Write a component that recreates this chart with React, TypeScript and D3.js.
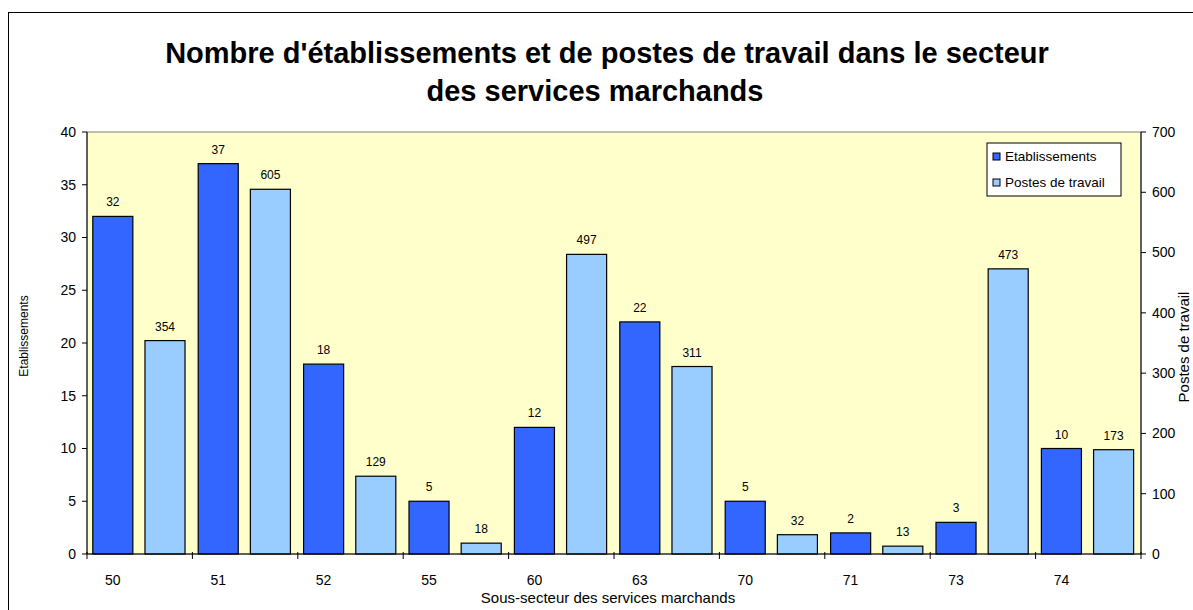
import { useEffect, useRef } from "react";
import * as d3 from "d3";

const categories = ["50", "51", "52", "55", "60", "63", "70", "71", "73", "74"];
const etablissements = [32, 37, 18, 5, 12, 22, 5, 2, 3, 10];
const postes = [354, 605, 129, 18, 497, 311, 32, 13, 473, 173];
const leftTicks = [0, 5, 10, 15, 20, 25, 30, 35, 40];
const rightTicks = [0, 100, 200, 300, 400, 500, 600, 700];

const DARK = "#3366FF";
const LIGHT = "#99CCFF";
const FONT = "'Liberation Sans', Arial, sans-serif";

const App = () => {
  const svgRef = useRef<SVGSVGElement>(null);

  useEffect(() => {
    const svg = d3.select(svgRef.current);
    svg.selectAll("*").remove();

    const plot = { left: 87, right: 1141, top: 132, bottom: 554 };

    // outer chart border
    svg
      .append("rect")
      .attr("x", 8.5)
      .attr("y", 12.5)
      .attr("width", 1200)
      .attr("height", 620)
      .attr("fill", "white")
      .attr("stroke", "black")
      .attr("stroke-width", 1);

    // title
    const title = svg
      .append("text")
      .attr("font-family", FONT)
      .attr("font-weight", "bold")
      .attr("font-size", 29)
      .attr("text-anchor", "middle")
      .attr("fill", "black");
    title.append("tspan").attr("x", 607).attr("y", 63).text("Nombre d'établissements et de postes de travail dans le secteur");
    title.append("tspan").attr("x", 595).attr("y", 101).text("des services marchands");

    const x = d3
      .scaleBand()
      .domain(categories)
      .range([plot.left, plot.right])
      .padding(0);
    const yL = d3.scaleLinear().domain([0, 40]).range([plot.bottom, plot.top]);
    const yR = d3.scaleLinear().domain([0, 700]).range([plot.bottom, plot.top]);

    svg
      .append("rect")
      .attr("x", plot.left)
      .attr("y", plot.top)
      .attr("width", plot.right - plot.left)
      .attr("height", plot.bottom - plot.top)
      .attr("fill", "#FFFFCC")
      .attr("stroke", "#808080")
      .attr("stroke-width", 1);

    const bw = x.bandwidth();
    const barW = bw * 0.38;

    const g = svg.append("g");

    // Etablissements bars (primary axis)
    g.selectAll(".etab")
      .data(etablissements)
      .enter()
      .append("rect")
      .attr("x", (d, i) => (x(categories[i]) as number) + bw * 0.055)
      .attr("y", (d) => yL(d))
      .attr("width", barW)
      .attr("height", (d) => plot.bottom - yL(d))
      .attr("fill", DARK)
      .attr("stroke", "black")
      .attr("stroke-width", 1.2);

    // Postes bars (secondary axis)
    g.selectAll(".postes")
      .data(postes)
      .enter()
      .append("rect")
      .attr("x", (d, i) => (x(categories[i]) as number) + bw * 0.55)
      .attr("y", (d) => yR(d))
      .attr("width", barW)
      .attr("height", (d) => plot.bottom - yR(d))
      .attr("fill", LIGHT)
      .attr("stroke", "black")
      .attr("stroke-width", 1.2);

    // value labels
    g.selectAll(".etabLbl")
      .data(etablissements)
      .enter()
      .append("text")
      .attr("x", (d, i) => (x(categories[i]) as number) + bw * 0.055 + barW / 2)
      .attr("y", (d) => yL(d) - 10)
      .attr("text-anchor", "middle")
      .attr("font-family", FONT)
      .attr("font-size", 12)
      .text((d) => d);

    g.selectAll(".postesLbl")
      .data(postes)
      .enter()
      .append("text")
      .attr("x", (d, i) => (x(categories[i]) as number) + bw * 0.55 + barW / 2)
      .attr("y", (d) => yR(d) - 10)
      .attr("text-anchor", "middle")
      .attr("font-family", FONT)
      .attr("font-size", 12)
      .text((d) => d);

    // left axis
    const left = svg.append("g").attr("transform", `translate(${plot.left},0)`);
    left.append("line").attr("y1", plot.top).attr("y2", plot.bottom).attr("stroke", "black");
    left
      .selectAll(".t")
      .data(leftTicks)
      .enter()
      .append("line")
      .attr("x1", -5)
      .attr("x2", 0)
      .attr("y1", (d) => yL(d))
      .attr("y2", (d) => yL(d))
      .attr("stroke", "black");
    left
      .selectAll(".l")
      .data(leftTicks)
      .enter()
      .append("text")
      .attr("x", -11)
      .attr("y", (d) => yL(d))
      .attr("dy", "0.35em")
      .attr("text-anchor", "end")
      .attr("font-family", FONT)
      .attr("font-size", 14)
      .text((d) => d);

    // right axis
    const right = svg.append("g").attr("transform", `translate(${plot.right},0)`);
    right.append("line").attr("y1", plot.top).attr("y2", plot.bottom).attr("stroke", "black");
    right
      .selectAll(".t")
      .data(rightTicks)
      .enter()
      .append("line")
      .attr("x1", 0)
      .attr("x2", 5)
      .attr("y1", (d) => yR(d))
      .attr("y2", (d) => yR(d))
      .attr("stroke", "black");
    right
      .selectAll(".l")
      .data(rightTicks)
      .enter()
      .append("text")
      .attr("x", 11)
      .attr("y", (d) => yR(d))
      .attr("dy", "0.35em")
      .attr("text-anchor", "start")
      .attr("font-family", FONT)
      .attr("font-size", 14)
      .text((d) => d);

    // x axis
    const bottom = svg.append("g");
    bottom
      .append("line")
      .attr("x1", plot.left)
      .attr("x2", plot.right)
      .attr("y1", plot.bottom)
      .attr("y2", plot.bottom)
      .attr("stroke", "black");
    bottom
      .selectAll(".t")
      .data([...categories.map((c) => x(c) as number), plot.right])
      .enter()
      .append("line")
      .attr("x1", (d) => d)
      .attr("x2", (d) => d)
      .attr("y1", plot.bottom - 2)
      .attr("y2", plot.bottom + 5)
      .attr("stroke", "black");
    bottom
      .selectAll(".l")
      .data(categories)
      .enter()
      .append("text")
      .attr("x", (d) => (x(d) as number) + bw * 0.055 + barW / 2)
      .attr("y", 585)
      .attr("text-anchor", "middle")
      .attr("font-family", FONT)
      .attr("font-size", 14)
      .text((d) => d);

    // axis titles
    svg
      .append("text")
      .attr("x", 608)
      .attr("y", 603)
      .attr("text-anchor", "middle")
      .attr("font-family", FONT)
      .attr("font-size", 15)
      .text("Sous-secteur des services marchands");
    svg
      .append("text")
      .attr("transform", `translate(28,336) rotate(-90)`)
      .attr("text-anchor", "middle")
      .attr("font-family", FONT)
      .attr("font-size", 12)
      .text("Etablissements");
    svg
      .append("text")
      .attr("transform", `translate(1189,347) rotate(-90)`)
      .attr("text-anchor", "middle")
      .attr("font-family", FONT)
      .attr("font-size", 15)
      .text("Postes de travail");

    // legend
    const legend = svg.append("g").attr("transform", "translate(987,143)");
    legend
      .append("rect")
      .attr("width", 134)
      .attr("height", 53)
      .attr("fill", "white")
      .attr("stroke", "black");
    const items = [
      { label: "Etablissements", color: DARK },
      { label: "Postes de travail", color: LIGHT },
    ];
    items.forEach((it, i) => {
      legend
        .append("rect")
        .attr("x", 6)
        .attr("y", 10 + i * 26)
        .attr("width", 7)
        .attr("height", 7)
        .attr("fill", it.color)
        .attr("stroke", "black");
      legend
        .append("text")
        .attr("x", 18)
        .attr("y", 13 + i * 26)
        .attr("dy", "0.35em")
        .attr("font-family", FONT)
        .attr("font-size", 13.5)
        .text(it.label);
    });
  }, []);

  return (
    <svg
      ref={svgRef}
      width={1193}
      height={610}
      style={{ position: "absolute", left: 0, top: 0 }}
    ></svg>
  );
};

export default App;
